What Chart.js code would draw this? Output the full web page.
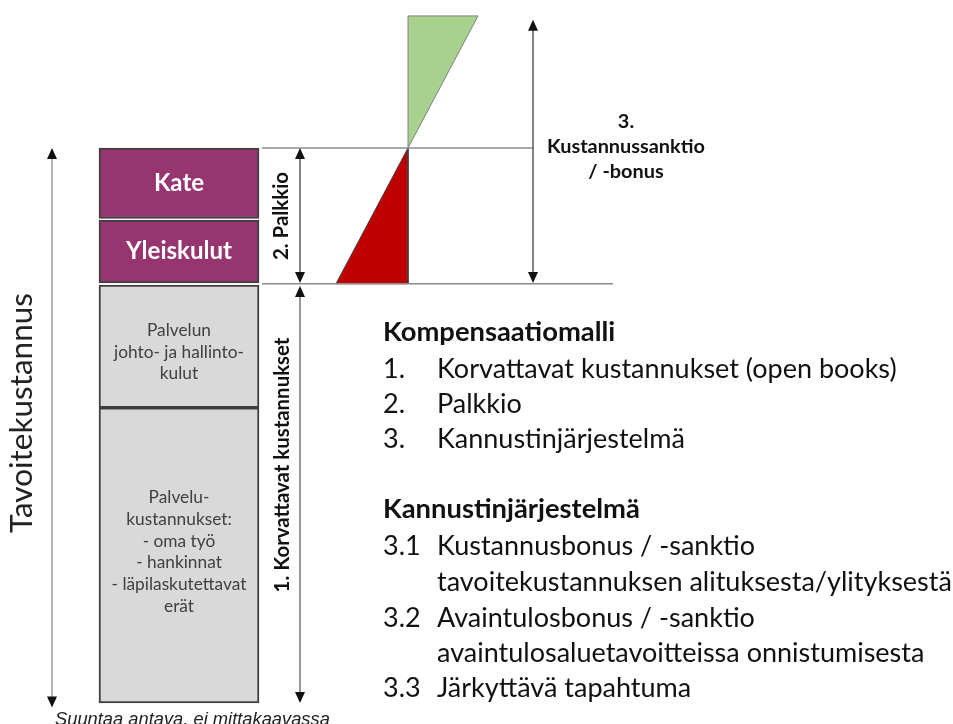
<!DOCTYPE html>
<html>
<head>
<meta charset="utf-8">
<script src="https://cdn.jsdelivr.net/npm/chart.js@4.4.1/dist/chart.umd.min.js"></script>
<style>
  html, body { margin: 0; padding: 0; background: #fff; }
  #wrap { width: 953px; height: 724px; }
</style>
</head>
<body>
<div id="wrap"><canvas id="chart" width="953" height="724"></canvas></div>
<script>
// Cost column, bottom to top (units: target cost = 100)
const segmentNames = ['Palvelukustannukset', 'Palvelun johto- ja hallintokulut', 'Yleiskulut', 'Kate'];
const segmentStart = [0, 53.2, 75.7, 87.3];
const segmentEnd = [53.2, 75.3, 87.0, 100];
const segmentLines = [
    ['Palvelu-', 'kustannukset:', '- oma työ', '- hankinnat', '- läpilaskutettavat', 'erät'],
    ['Palvelun', 'johto- ja hallinto-', 'kulut'],
    ['Yleiskulut'],
    ['Kate']
];

// Key levels
const targetCost = 100;
const reimbursableTop = 75.3;
const feeBase = 75.7;
const bonusTop = 123.8;
const bonusMax = 70;      // width of the bonus wedge
const sanctionMax = 72;   // width of the sanction wedge

// Texts
const axisTitle = 'Tavoitekustannus';
const feeLabel = '2. Palkkio';
const costLabel = '1. Korvattavat kustannukset';
const incentiveLabel = ['3.', 'Kustannussanktio', '/ -bonus'];
const listTitle1 = 'Kompensaatiomalli';
const listNums1 = ['1.', '2.', '3.'];
const listItems1 = ['Korvattavat kustannukset (open books)', 'Palkkio', 'Kannustinjärjestelmä'];
const listTitle2 = 'Kannustinjärjestelmä';
const listNums2 = ['3.1', '', '3.2', '', '3.3'];
const listItems2 = ['Kustannusbonus / -sanktio', 'tavoitekustannuksen alituksesta/ylityksestä',
    'Avaintulosbonus / -sanktio', 'avaintulosaluetavoitteissa onnistumisesta', 'Järkyttävä tapahtuma'];
const footnote = 'Suuntaa antava, ei mittakaavassa';

// Layout (pixels on the x scale)
const colX = 179, colW = 160;
const pivotX = 408;
const FONT = 'Lato, "Open Sans", sans-serif';
const NOTE_FONT = '"Liberation Sans", Arial, sans-serif';

const segColors = ['#d9d9d9', '#d9d9d9', '#963570', '#963570'];

function fitSize(ctx, text, weight, style, target, family) {
    ctx.font = style + ' ' + weight + ' 20px ' + (family || FONT);
    return 20 * target / ctx.measureText(text).width;
}

function arrowHead(ctx, x, y, dir) {
    ctx.beginPath();
    ctx.moveTo(x, y);
    ctx.lineTo(x - 5, y - dir * 11);
    ctx.lineTo(x + 5, y - dir * 11);
    ctx.closePath();
    ctx.fill();
}

function vArrow(ctx, x, yTop, yBot, color) {
    ctx.save();
    ctx.strokeStyle = color || '#333';
    ctx.fillStyle = '#111';
    ctx.lineWidth = 1.2;
    ctx.beginPath();
    ctx.moveTo(x, yTop + 6);
    ctx.lineTo(x, yBot - 6);
    ctx.stroke();
    arrowHead(ctx, x, yTop, -1);
    arrowHead(ctx, x, yBot, 1);
    ctx.restore();
}

function rotText(ctx, text, x, y, font, color) {
    ctx.save();
    ctx.translate(x, y);
    ctx.rotate(-Math.PI / 2);
    ctx.font = font;
    ctx.fillStyle = color;
    ctx.textAlign = 'center';
    ctx.textBaseline = 'middle';
    ctx.fillText(text, 0, 0);
    ctx.restore();
}

const annotations = {
    id: 'annotations',
    afterDatasetsDraw(chart) {
        const ctx = chart.ctx;
        const ys = chart.scales.y;
        const Y = v => ys.getPixelForValue(v);

        // arrows
        vArrow(ctx, 52, Y(targetCost), Y(-0.8), '#888');
        vArrow(ctx, 300, Y(targetCost), Y(feeBase));
        vArrow(ctx, 300, Y(reimbursableTop) + 1, Y(0), '#555');
        vArrow(ctx, 533, Y(bonusTop - 0.7), Y(feeBase));

        // segment labels
        ctx.save();
        ctx.textAlign = 'center';
        ctx.textBaseline = 'middle';
        const bold = fitSize(ctx, 'Yleiskulut', 'bold', 'normal', 106);
        const small = fitSize(ctx, '- läpilaskutettavat', 'normal', 'normal', 135);
        segmentLines.forEach((lines, i) => {
            const isBig = i >= 2;
            ctx.font = (isBig ? 'bold ' + bold : small) + 'px ' + FONT;
            ctx.fillStyle = isBig ? '#ffffff' : '#404040';
            const lh = isBig ? 0 : 21.8;
            let mid = (Y(segmentStart[i]) + Y(segmentEnd[i])) / 2;
            if (i === 0) mid = 552;
            if (i === 1) mid = 352;
            lines.forEach((t, k) => {
                ctx.fillText(t, colX, mid + (k - (lines.length - 1) / 2) * lh);
            });
        });
        ctx.restore();

        // rotated labels
        const axisSize = fitSize(ctx, axisTitle, 'normal', 'normal', 240);
        rotText(ctx, axisTitle, 22, 413, axisSize + 'px ' + FONT, '#222');
        const rotSize = fitSize(ctx, costLabel, 'bold', 'normal', 255);
        rotText(ctx, feeLabel, 281, 216, 'bold ' + rotSize + 'px ' + FONT, '#111');
        rotText(ctx, costLabel, 282, 465, 'bold ' + rotSize + 'px ' + FONT, '#111');

        // incentive label
        ctx.save();
        ctx.textAlign = 'center';
        ctx.textBaseline = 'middle';
        ctx.fillStyle = '#111';
        ctx.font = 'bold ' + fitSize(ctx, 'Kustannussanktio', 'bold', 'normal', 158) + 'px ' + FONT;
        incentiveLabel.forEach((t, k) => ctx.fillText(t, 626, 122 + k * 25));
        ctx.restore();

        // right-hand text
        ctx.save();
        ctx.textAlign = 'left';
        ctx.textBaseline = 'alphabetic';
        ctx.fillStyle = '#111';
        const hSize = fitSize(ctx, listTitle2, 'bold', 'normal', 257);
        const tSize = fitSize(ctx, listItems1[0], 'normal', 'normal', 460);
        ctx.font = 'bold ' + hSize + 'px ' + FONT;
        ctx.fillText(listTitle1, 383, 341);
        ctx.fillText(listTitle2, 383, 518);
        ctx.font = tSize + 'px ' + FONT;
        const base1 = [378, 413, 448];
        listNums1.forEach((n, k) => {
            ctx.fillText(n, 383, base1[k]);
            ctx.fillText(listItems1[k], 437, base1[k]);
        });
        const base2 = [555, 591, 627, 662, 697];
        listNums2.forEach((n, k) => {
            ctx.fillText(n, 383, base2[k]);
            ctx.fillText(listItems2[k], 437, base2[k]);
        });

        // footnote (cut by the lower edge, as in the slide)
        ctx.font = 'italic ' + fitSize(ctx, footnote, 'normal', 'italic', 275, NOTE_FONT) + 'px ' + NOTE_FONT;
        ctx.fillStyle = '#222';
        ctx.fillText(footnote, 55, 725);
        ctx.restore();
    }
};

const line = (pts, color, width) => ({
    type: 'line',
    data: pts,
    borderColor: color,
    borderWidth: width,
    pointRadius: 0,
    fill: false,
    tension: 0
});

new Chart(document.getElementById('chart'), {
    type: 'bar',
    data: {
        datasets: [
            {
                type: 'bar',
                data: segmentNames.map((n, i) => ({ x: colX, y: [segmentStart[i], segmentEnd[i]] })),
                backgroundColor: segColors,
                borderColor: '#3f3f3f',
                borderWidth: 2,
                borderSkipped: false,
                barThickness: colW,
                order: 2
            },
            line([{ x: 262, y: targetCost }, { x: 533, y: targetCost }], '#8c8c8c', 1.5),
            line([{ x: 262, y: feeBase - 0.15 }, { x: 613, y: feeBase - 0.15 }], '#8c8c8c', 1.5),
            {
                type: 'line',
                data: [{ x: pivotX, y: targetCost }, { x: pivotX, y: bonusTop },
                       { x: pivotX + bonusMax, y: bonusTop }, { x: pivotX, y: targetCost }],
                borderColor: '#7f7f7f',
                borderWidth: 1,
                backgroundColor: '#a9d18e',
                pointRadius: 0,
                fill: 'shape',
                tension: 0
            },
            {
                type: 'line',
                data: [{ x: pivotX, y: targetCost }, { x: pivotX, y: feeBase - 0.15 },
                       { x: pivotX - sanctionMax, y: feeBase - 0.15 }, { x: pivotX, y: targetCost }],
                borderColor: '#404040',
                borderWidth: 1,
                backgroundColor: '#c00000',
                pointRadius: 0,
                fill: 'shape',
                tension: 0
            }
        ]
    },
    options: {
        responsive: false,
        animation: false,
        layout: { padding: 0 },
        plugins: { legend: { display: false }, tooltip: { enabled: false } },
        scales: {
            x: { type: 'linear', min: 0, max: 953, offset: false, display: false },
            y: { min: -3.78, max: 126.67, display: false }
        }
    },
    plugins: [annotations]
});
</script>
</body>
</html>
